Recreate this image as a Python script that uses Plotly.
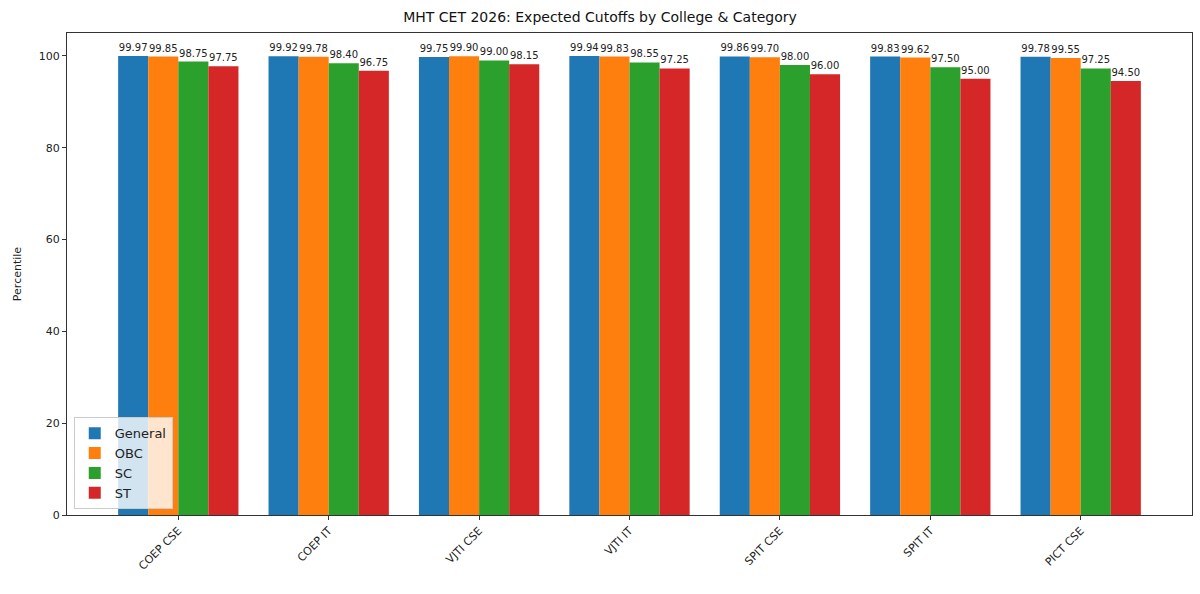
import plotly.graph_objects as go

colleges = ["COEP CSE", "COEP IT", "VJTI CSE", "VJTI IT", "SPIT CSE", "SPIT IT", "PICT CSE"]
categories = ["General", "OBC", "SC", "ST"]
general = [99.97, 99.92, 99.75, 99.94, 99.86, 99.83, 99.78]
obc = [99.85, 99.78, 99.90, 99.83, 99.70, 99.62, 99.55]
sc = [98.75, 98.40, 99.00, 98.55, 98.00, 97.50, 97.25]
st = [97.75, 96.75, 98.15, 97.25, 96.00, 95.00, 94.50]
series = [general, obc, sc, st]
colors = ["#1f77b4", "#ff7f0e", "#2ca02c", "#d62728"]

fig = go.Figure()
for name, vals, c in zip(categories, series, colors):
    fig.add_trace(go.Bar(
        x=colleges, y=vals, name=name, marker=dict(color=c, line=dict(width=0)),
        text=[f"{v:.2f}" for v in vals], textposition="outside",
        textfont=dict(size=10, color="#222"), constraintext="none", cliponaxis=False,
    ))

fig.update_layout(
    width=1200, height=594,
    margin=dict(l=67, r=8, t=33, b=79),
    paper_bgcolor="white", plot_bgcolor="white",
    font=dict(family="DejaVu Sans", size=11, color="#222"),
    barmode="group", bargap=0.2, bargroupgap=0,
    title=dict(text="MHT CET 2026: Expected Cutoffs by College & Category",
               x=0.5, xanchor="center", y=1 - 17/594, yanchor="middle",
               font=dict(size=14, color="#111")),
    showlegend=True,
    legend=dict(x=0.006, y=0.012, xanchor="left", yanchor="bottom",
                bgcolor="rgba(255,255,255,0.8)", bordercolor="#ccc", borderwidth=1,
                font=dict(size=13), tracegroupgap=2),
    xaxis=dict(range=[-0.74, 6.74], showline=True, linecolor="#333", linewidth=1, mirror=True,
               ticks="outside", ticklen=4, tickcolor="#333", tickangle=-45,
               tickfont=dict(size=11)),
    yaxis=dict(range=[0, 104.97], showline=True, linecolor="#333", linewidth=1, mirror=True,
               ticks="outside", ticklen=4, tickcolor="#333", tickvals=[0, 20, 40, 60, 80, 100],
               showgrid=False, zeroline=False, title=dict(text="Percentile", font=dict(size=11), standoff=14),
               tickfont=dict(size=11)),
)
fig.write_html("out.html")
